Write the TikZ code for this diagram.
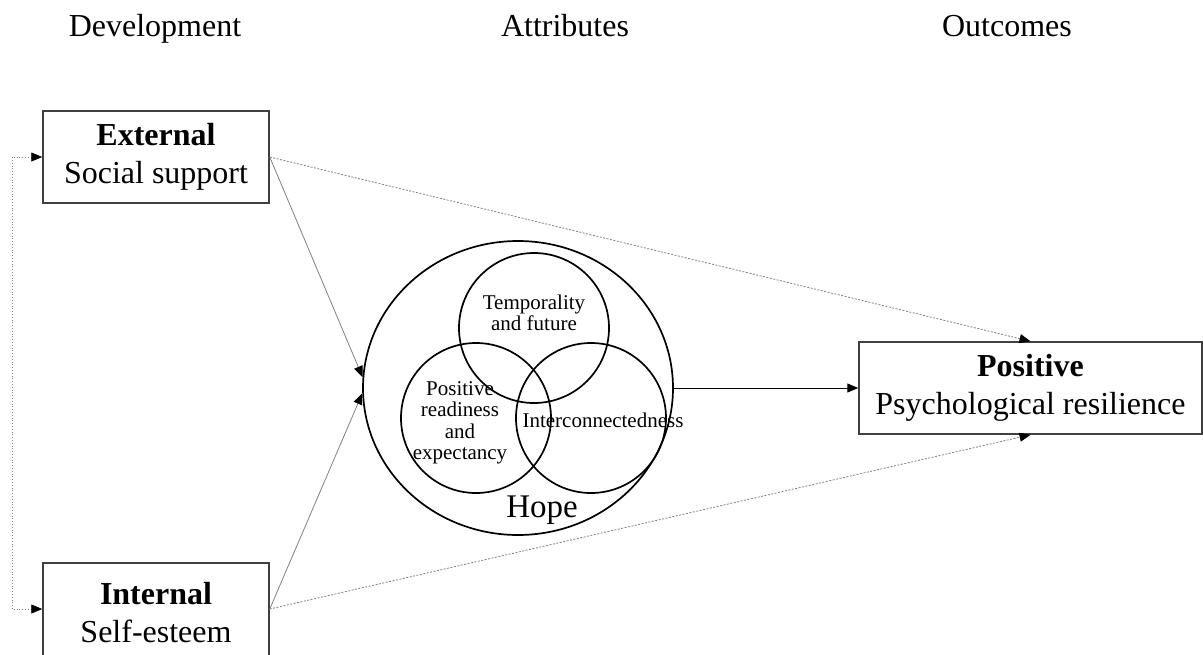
\documentclass[tikz,border=0pt]{standalone}
\usepackage{fontspec}
\setmainfont{Liberation Serif}
\usetikzlibrary{arrows.meta,calc,shapes.geometric}

\begin{document}
\begin{tikzpicture}[x=1pt,y=-1pt,
  box/.style={draw=black!75,line width=1.5pt,minimum width=226pt,minimum height=92pt,inner sep=0pt,align=center,font=\fontsize{32}{38}\selectfont},
  ring/.style={draw,circle,line width=1.7pt,minimum size=150pt,inner sep=0pt},
  venntext/.style={align=center,inner sep=0pt,font=\fontsize{21}{21.5}\selectfont},
  headline/.style={anchor=base,font=\fontsize{32}{38}\selectfont},
  arr/.style={-{Triangle[length=11pt,width=9pt,color=black]}},
  link/.style={draw=black!50,line width=.8pt},
  dashlink/.style={link,dash pattern=on 2pt off 1.5pt}]
\useasboundingbox(0,0)rectangle(1203,654);
\node[headline](dev)at(155,36){Development};\node[headline](att)at(565,36){Attributes};\node[headline](out)at(1007,36){Outcomes};
\node[box](ext)at(156,157){\textbf{External}\\Social support};
\node[box,minimum height=100pt](int)at(156,613){\textbf{Internal}\\Self-esteem};
\node[box,minimum width=343pt](pos)at(1030.5,388){\textbf{Positive}\\Psychological resilience};
% hope and its three parts
\node[draw,ellipse,line width=1.7pt,minimum width=310pt,minimum height=294pt,inner sep=0pt](hope)at(518,388){};
\node[ring](fut)at(534,328){};\node[ring](rdy)at(476,418){};\node[ring](con)at(591,418){};
\node[venntext](futx)at(534,313){Temporality\\and future};
\node[venntext](rdyx)at(460,423){Positive\\readiness\\and\\expectancy};
\node[venntext](conx)at(603,420){Interconnectedness};
\node[font=\fontsize{33}{38}\selectfont](hopex)at(542,510){Hope};
% connectors
\coordinate(fb)at(12,157);\coordinate(intw)at($(int.west)+(0,-4)$);\coordinate(inte)at($(int.east)+(0,-4)$);
\draw[link,dotted,{Triangle[length=11pt,width=9pt,color=black]}-{Triangle[length=11pt,width=9pt,color=black]}](ext.west)--(fb)|-(intw);
\draw[link,arr](ext.east)--(hope.176);\draw[link,arr](inte)--(hope.182);
\draw[dashlink,arr](ext.east)--(pos.north);\draw[dashlink,arr](inte)--(pos.south);
\draw[line width=1pt,arr](hope.east)--(pos.west);
\end{tikzpicture}
\end{document}
